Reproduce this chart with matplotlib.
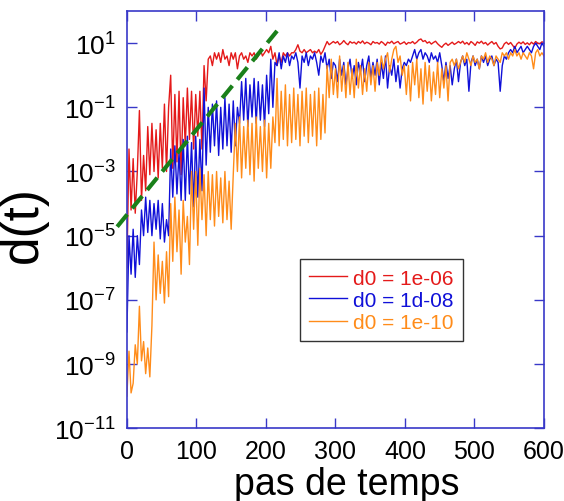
import matplotlib
matplotlib.use("Agg")
import matplotlib.pyplot as plt
from matplotlib.ticker import FixedLocator, FuncFormatter, NullLocator
import numpy as np

plt.rcParams['font.family'] = ['Liberation Sans', 'DejaVu Sans']
plt.rcParams['mathtext.fontset'] = 'custom'
plt.rcParams['mathtext.rm'] = 'Liberation Sans'
plt.rcParams['mathtext.it'] = 'Liberation Sans:italic'

# pas de temps, un point tous les 3 pas
step = 3

# log10 d(t)
log_d_red = [
    -6.0, -2.3, -4.2, -2.6, -4.3, -3.0, -1.1, -3.9, -2.5, -3.6,
    -1.6, -3.1, -1.5, -3.0, -1.7, -3.2, -1.5, -2.9, -0.9, -3.0,
    -1.0, 0.0, -2.9, -0.6, -2.7, -0.5, -3.1, -0.7, -2.2, -0.4,
    -2.0, -0.5, -2.3, -0.6, -1.9, -0.5, -2.3, 0.3, -0.8, 0.5,
    0.6, 0.3, 0.7, 0.5, 0.7, 0.4, 0.8, 0.5, 0.6, 0.3,
    0.7, 0.5, 0.7, 0.2, 0.6, 0.7, 0.5, 0.6, 0.4, 0.7,
    0.6, 0.7, 0.5, 0.6, 0.8, 0.6, 0.7, 0.8, 0.7, 0.9,
    0.5, 0.7, 0.3, 0.6, 0.4, 0.7, 0.6, 0.7, 0.6, 0.7,
    0.7, 0.8, 0.95, 0.75, 0.7, 0.8, 0.7, 0.75, 0.8, 0.7,
    0.75, 0.7, 0.8, 0.65, 0.75, 0.9, 1.05, 0.95, 1.0, 1.05,
    1.0, 1.05, 0.95, 1.0, 1.08, 1.0, 0.95, 1.05, 1.0, 1.03,
    0.97, 1.05, 1.0, 1.07, 0.98, 1.03, 1.0, 0.95, 1.05, 1.0,
    1.02, 0.97, 1.05, 1.0, 0.93, 1.03, 1.0, 1.06, 0.98, 1.02,
    1.05, 0.97, 1.0, 1.04, 0.96, 1.02, 1.0, 1.05, 0.98, 1.03,
    1.1, 1.13, 1.05, 1.08, 1.0, 1.04, 0.97, 1.02, 1.06, 0.98,
    0.92, 0.87, 0.95, 1.0, 0.93, 0.98, 1.03, 0.96, 1.0, 1.05,
    1.0, 1.06, 0.97, 1.02, 0.95, 1.05, 1.0, 0.93, 1.04, 1.0,
    1.06, 0.98, 1.02, 0.94, 1.0, 1.05, 0.97, 1.02, 0.9, 0.82,
    0.85, 0.98, 1.03, 0.96, 1.02, 0.93, 0.84, 0.97, 1.03, 0.98,
    1.04, 0.96, 1.01, 0.95, 1.03, 0.97, 1.05, 1.0, 0.98, 1.04,
    1.02,
]

log_d_blue = [
    -8.0, -5.0, -6.2, -4.8, -6.3, -5.0, -5.9, -4.2, -5.0, -3.8,
    -4.9, -3.9, -5.0, -4.0, -4.8, -3.9, -5.1, -4.0, -5.2, -4.5,
    -5.0, -2.3, -3.8, -2.2, -3.7, -2.4, -3.9, -2.0, -3.9, -1.9,
    -3.7, -2.1, -4.1, -1.9, -3.8, -2.0, -3.6, -0.4, -2.8, -1.0,
    -2.4, -0.9, -2.2, -0.8, -2.5, -1.0, -2.3, -0.7, -2.2, -0.9,
    -2.4, -0.8, -2.2, -1.0, -1.5, -0.2, -1.4, -0.1, -1.6, -0.3,
    -1.3, -0.1, -1.5, -0.2, -1.4, -0.3, -1.6, 0.0, -1.2, 0.5,
    -1.0, 0.4, 0.3, 0.7, 0.2, 0.6, 0.4, 0.7, 0.3, 0.6,
    0.5, 0.7, 0.4, -0.4, 0.6, 0.4, 0.7, 0.3, 0.6, 0.5,
    0.7, 0.4, 0.0, 0.6, 0.4, 0.7, 0.2, 0.5, -0.1, 0.4,
    0.3, -0.2, 0.5, 0.0, 0.4, -0.3, 0.2, 0.5, -0.1, 0.3,
    -0.3, 0.4, 0.1, 0.5, -0.2, 0.3, 0.6, -0.1, 0.4, 0.0,
    0.5, -0.3, 0.4, -0.1, 0.6, -0.4, 0.3, 0.0, 0.5, -0.2,
    0.3, -0.4, 0.2, 0.4, 0.3, 0.5, 0.4, 0.6, 0.8, 0.5,
    0.7, 0.8, 0.5, 0.7, 0.6, 0.4, 0.7, 0.5, 0.6, 0.4,
    0.7, 0.3, -0.2, 0.4, -0.1, 0.3, -0.3, 0.2, 0.5, -0.2,
    0.4, 0.6, 0.3, 0.5, -0.5, 0.4, 0.6, 0.3, 0.5, 0.2,
    0.6, 0.4, 0.6, 0.3, 0.5, 0.6, 0.3, 0.5, 0.4, -0.5,
    0.3, 0.6, 0.5, 0.7, 0.8, 0.7, 0.9, 0.7, 0.8, 0.9,
    0.7, 0.8, 0.9, 0.8, 0.7, 0.9, 1.0, 0.9, 0.8, 1.0,
    0.9,
]

log_d_orange = [
    -10.0, -8.6, -9.9, -9.6, -8.4, -9.0, -7.2, -8.9, -8.3, -9.3,
    -8.5, -9.4, -7.8, -5.2, -7.0, -5.6, -6.8, -5.8, -7.1, -5.5,
    -6.9, -4.0, -5.8, -3.8, -5.5, -4.2, -6.2, -3.9, -5.2, -4.4,
    -5.9, -3.0, -4.8, -3.0, -5.3, -2.9, -4.5, -3.1, -5.0, -3.0,
    -4.5, -3.1, -4.7, -3.0, -4.4, -3.2, -4.6, -3.0, -4.5, -3.3,
    -4.8, -3.1, -1.5, -3.0, -1.3, -3.2, -1.6, -2.9, -1.4, -3.1,
    -1.5, -3.3, -1.3, -2.9, -1.6, -3.0, -1.4, -3.2, -1.5, -2.9,
    -1.3, -2.1, -0.1, -2.2, -0.5, -2.0, -0.3, -2.2, -0.6, -2.1,
    -0.4, -2.0, -0.6, -2.2, -0.5, -1.9, -0.4, -2.1, -0.6, -1.9,
    -0.5, -2.2, -0.4, -2.0, -0.6, -1.8, 0.3, -0.7, 0.5, -0.6,
    0.2, -0.7, 0.6, -0.5, 0.3, -0.7, 0.4, -0.6, 0.2, -0.7,
    0.5, -0.4, 0.3, -0.6, 0.2, -0.5, 0.4, -0.3, 0.3, -0.5,
    0.4, 0.0, 0.6, 0.2, 0.5, 0.7, 0.1, 0.5, 0.8, 0.9,
    0.4, 0.6, 0.0, 0.3, -0.6, 0.3, -0.8, 0.4, -0.3, 0.5,
    -0.7, 0.2, -0.9, 0.4, -0.5, 0.3, -0.8, 0.1, -0.6, 0.4,
    -0.7, 0.2, -0.4, 0.3, -0.8, 0.4, 0.5, 0.3, 0.5, 0.2,
    0.4, 0.6, 0.4, 0.7, 0.5, 0.3, 0.6, 0.4, 0.5, 0.2,
    0.6, 0.5, 0.7, 0.4, 0.6, 0.5, 0.3, 0.6, 0.5, 0.4,
    0.7, 0.6, 0.7, 0.5, 0.7, 0.6, 0.8, 0.6, 0.7, 0.5,
    0.7, 0.6, 0.5, 0.7, 0.6, 0.2, 0.7, 0.8, 0.6, 0.7,
    0.6,
]

labels = ["d0 = 1e-06", "d0 = 1d-08", "d0 = 1e-10"]
colors = ["#e41a1a", "#1010d8", "#ff8c1a"]

# droite de pente (exposant de Lyapunov), extremites
fit_t = [-14, 216]
fit_d = [1.9e-5, 24.0]

blue_axis = "#3838c8"

fig = plt.figure(figsize=(5.64, 5.02), dpi=100)
ax = fig.add_axes([0.225, 0.145, 0.7395, 0.831])

for vals, lab, col in zip([log_d_red, log_d_blue, log_d_orange], labels, colors):
    t = np.arange(len(vals)) * step
    ax.plot(t, 10.0 ** np.array(vals), color=col, lw=1.0, label=lab)

ax.plot(fit_t, fit_d, color="#1a801a", lw=3.0, dashes=(3.8, 1.9),
        clip_on=False, zorder=5)

ax.set_yscale('log')
ax.set_xlim(0, 600)
ax.set_ylim(1e-11, 1e2)

ax.yaxis.set_major_locator(FixedLocator([10.0 ** e for e in range(-11, 2, 2)]))
ax.yaxis.set_minor_locator(NullLocator())
ax.yaxis.set_major_formatter(FuncFormatter(
    lambda v, p: r'$\mathregular{10^{%d}}$' % int(round(np.log10(v)))))
ax.xaxis.set_major_locator(FixedLocator([0, 100, 200, 300, 400, 500, 600]))

ax.tick_params(which='both', direction='in', top=True, right=True,
               length=7, width=1, color=blue_axis, pad=8)
ax.tick_params(axis='y', labelsize=19)
ax.tick_params(axis='x', labelsize=18)
for s in ax.spines.values():
    s.set_color(blue_axis)
    s.set_linewidth(1.2)

ax.set_xlabel("pas de temps", fontsize=27)
ax.xaxis.set_label_coords(0.528, -0.09, transform=ax.transAxes)
ax.xaxis.label.set_va('top')
ax.set_ylabel("d(t)", fontsize=37)
ax.yaxis.set_label_coords(-0.19, 0.49, transform=ax.transAxes)

leg = ax.legend(loc='upper left', bbox_to_anchor=(0.415, 0.405),
                borderaxespad=0, fontsize=15, labelcolor='linecolor',
                fancybox=False, edgecolor='#333333', framealpha=1,
                handlelength=1.8, handletextpad=0.3, labelspacing=0.15,
                borderpad=0.45)
leg.get_frame().set_linewidth(1.0)

fig.savefig("out.png", dpi=100)
